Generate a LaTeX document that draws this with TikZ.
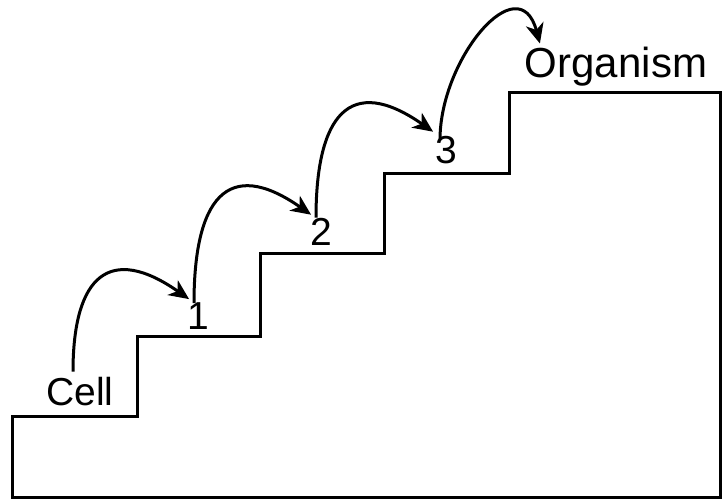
\documentclass[tikz,border=0pt]{standalone}
\usepackage{fontspec}
\setmainfont{Liberation Sans}
\usetikzlibrary{arrows.meta}
\tikzset{
  /tikz/.cd,
  stage/.style={font=\fontsize{19.5}{23}\selectfont,anchor=base},
  hop/.style={line width=1.5pt,-{Stealth[length=10pt,width=9pt,inset=3pt]},looseness=1.8}
}

\begin{document}
\begin{tikzpicture}[x=0.5pt,y=-0.5pt,
                    stairs/.style={line width=1.5pt,line join=miter}]
  \useasboundingbox (0,0) rectangle (723,500);
  \draw[stairs] (12,416) -- (137,416) -- (137,336) -- (260,336) -- (260,253)
    -- (384,253) -- (384,173) -- (509,173) -- (509,92) -- (720,92)
    -- (720,497) -- (12,497) -- cycle;

  \node[stage] (cell) at (80,405) {Cell};
  \node[stage] (one) at (198,329) {1};
  \node[stage] (two) at (321,245) {2};
  \node[stage] (three) at (446,163) {3};
  \node[stage,font=\fontsize{21}{25}\selectfont] (organism) at (616,77) {Organism};

  \draw[hop] ([shift={(-7,2)}]cell.north) to[out=90,in=145] ([shift={(9,4)}]one.north west);
  \draw[hop] ([shift={(-4,8)}]one.north) to[out=90,in=145] ([shift={(8,4)}]two.north west);
  \draw[hop] ([shift={(-5,7)}]two.north) to[out=90,in=145] ([shift={(5,3)}]three.north west);
  \draw[hop,looseness=1.5] ([shift={(-6,11)}]three.north) to[out=90,in=105] ([shift={(22,4)}]organism.north west);
\end{tikzpicture}
\end{document}
